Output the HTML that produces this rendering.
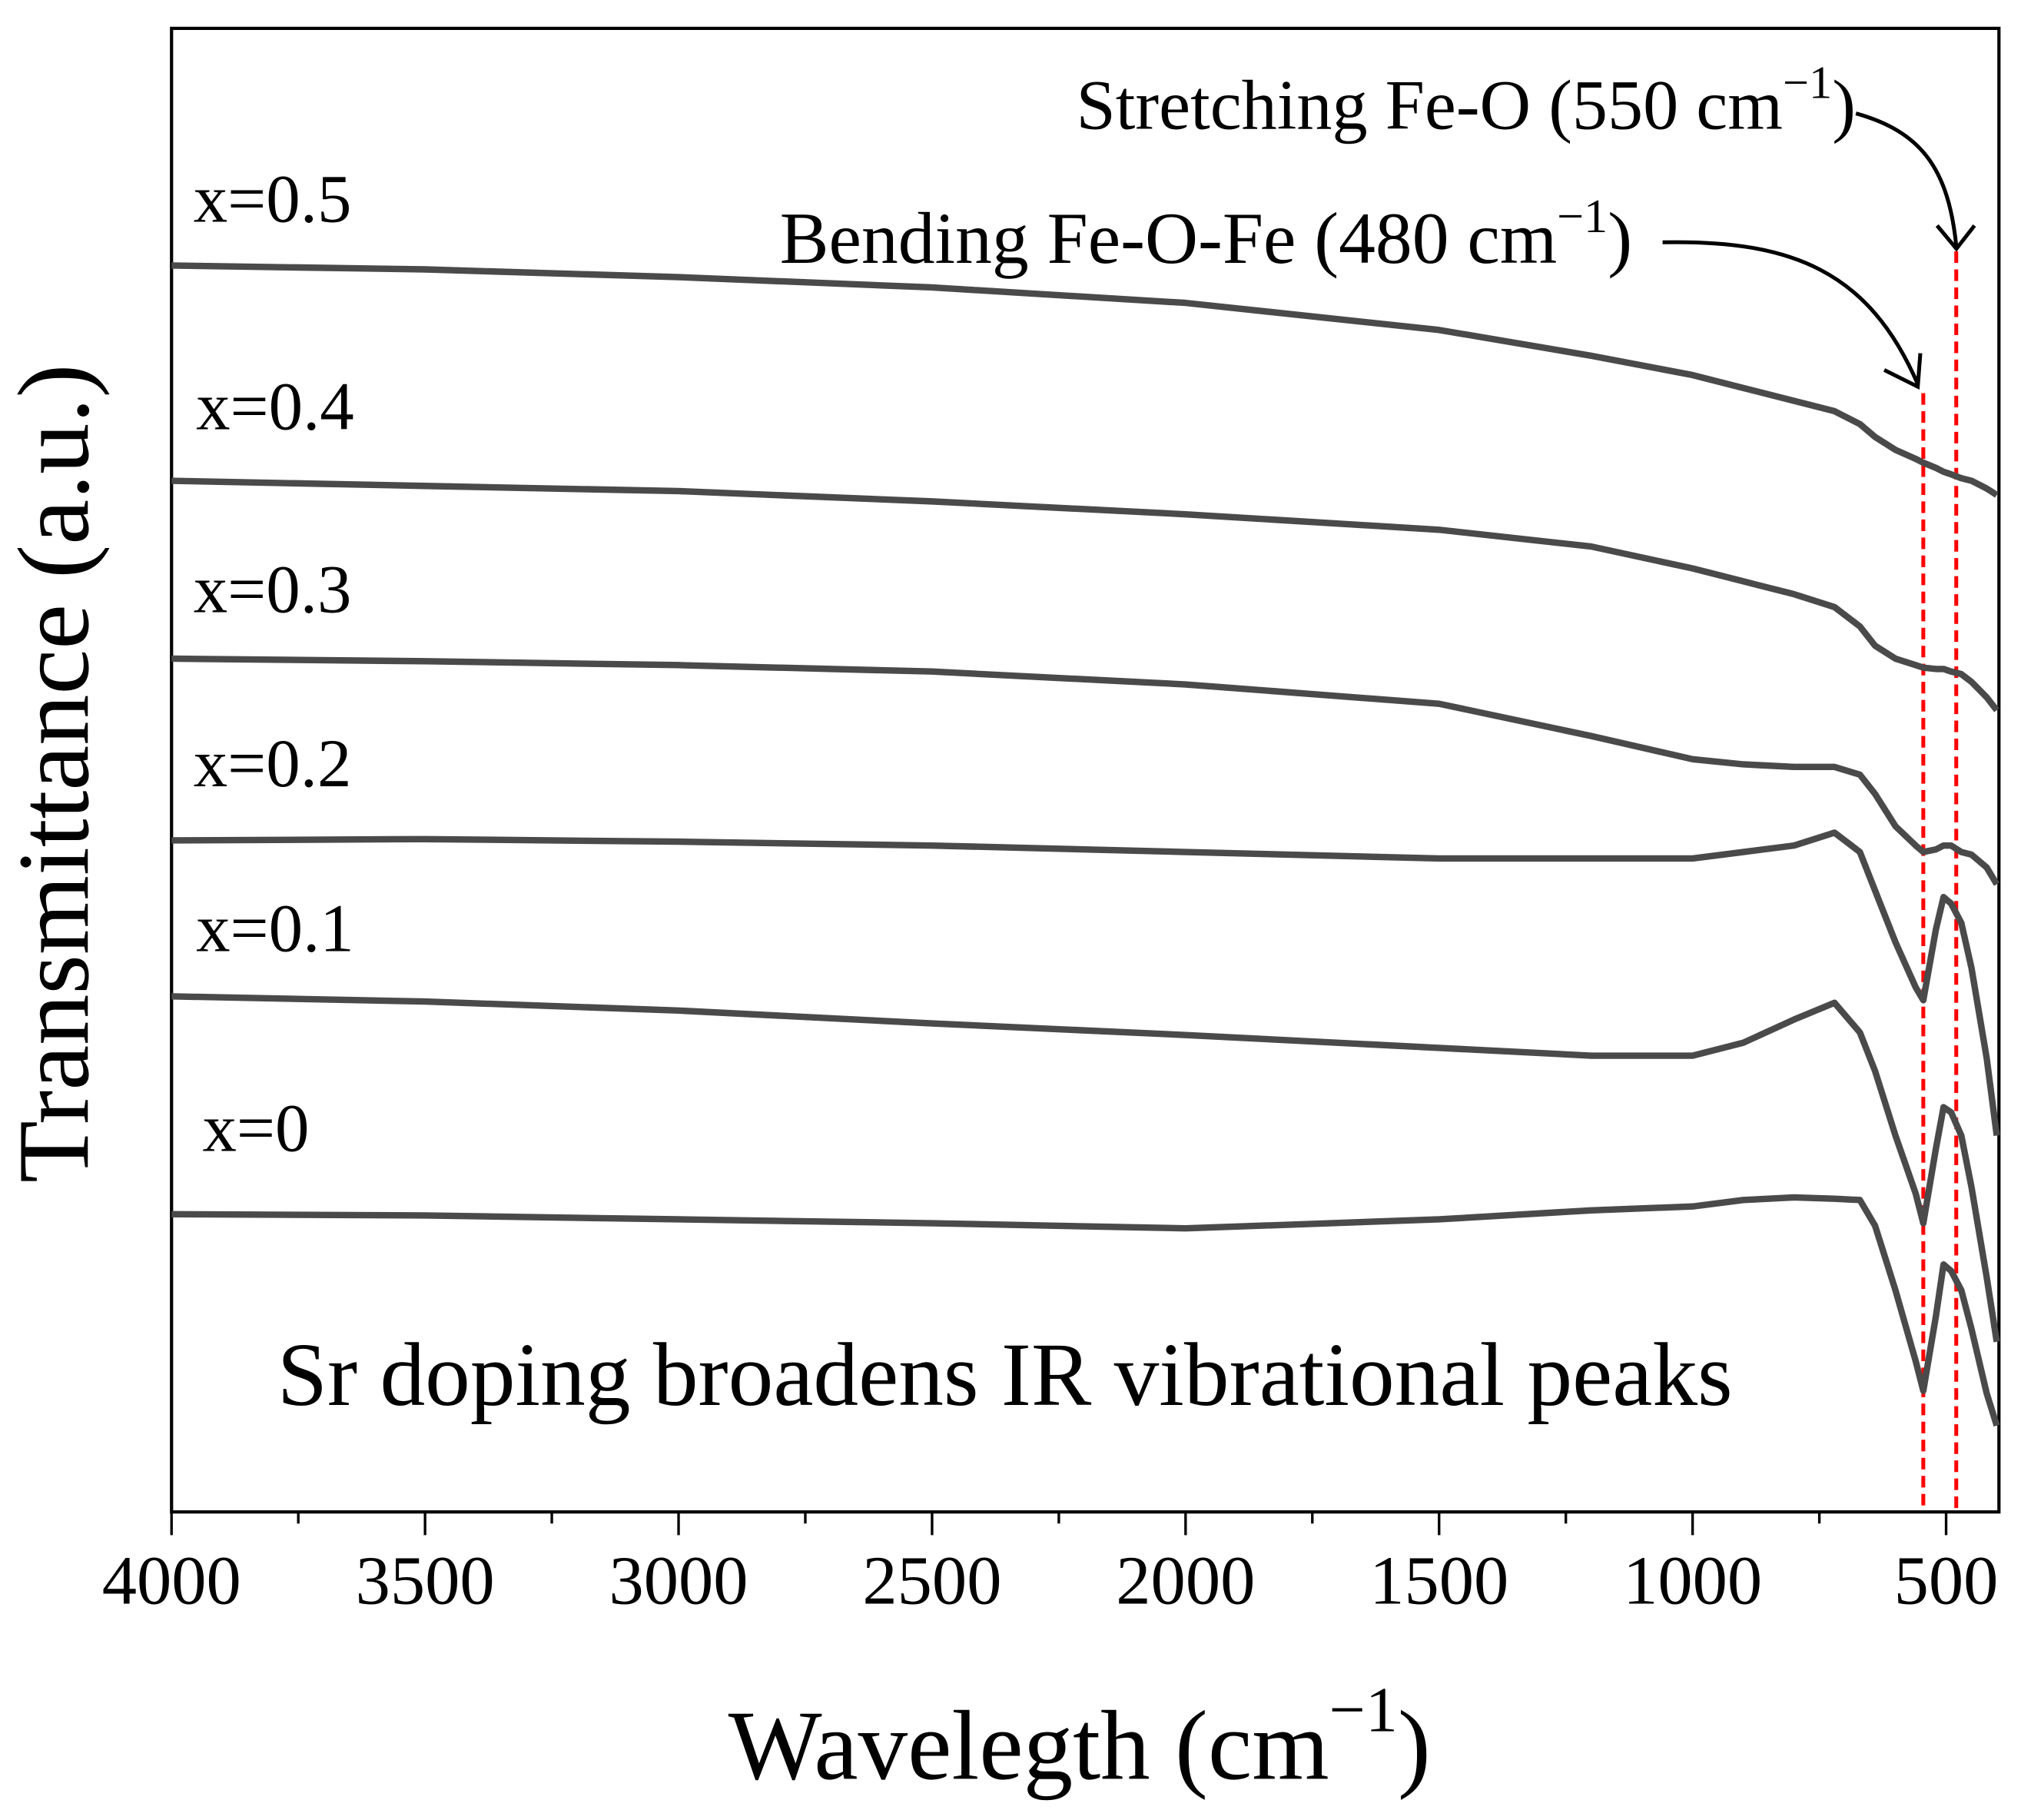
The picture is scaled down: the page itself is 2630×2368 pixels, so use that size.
<!DOCTYPE html>
<html><head><meta charset="utf-8"><style>
html,body{margin:0;padding:0;background:#fff}
svg{display:block}
text{font-family:"Liberation Serif",serif;fill:#000}
</style></head><body>
<svg id="chart" width="2630" height="2368" viewBox="0 0 1568 1412" xmlns="http://www.w3.org/2000/svg">
<rect x="0" y="0" width="1568" height="1412" fill="#fff"/>
<g id="plot"></g>
</svg>
<script>
const wavenumbers=[4000,3500,3000,2500,2000,1500,1200,1000,900,800,720,670,640,600,560,545,520,505,490,470,450,420,400];
const seriesLabels=["x=0","x=0.1","x=0.2","x=0.3","x=0.4","x=0.5"];
const sX0=[2.31,2.30,2.27,2.24,2.20,2.27,2.34,2.37,2.42,2.44,2.43,2.42,2.22,1.72,1.17,0.94,1.52,1.92,1.87,1.72,1.42,0.92,0.67];
const sX01=[4.00,3.96,3.89,3.79,3.70,3.60,3.54,3.54,3.64,3.82,3.95,3.72,3.42,2.92,2.47,2.24,2.82,3.14,3.10,2.92,2.52,1.82,1.32];
const sX02=[5.21,5.22,5.20,5.17,5.12,5.07,5.07,5.07,5.12,5.17,5.27,5.12,4.82,4.42,4.07,3.97,4.52,4.77,4.72,4.57,4.22,3.52,2.92];
const sX03=[6.62,6.60,6.57,6.52,6.42,6.27,6.02,5.84,5.80,5.78,5.78,5.72,5.57,5.32,5.17,5.12,5.14,5.17,5.17,5.12,5.10,5.00,4.87];
const sX04=[8.00,7.96,7.92,7.84,7.74,7.62,7.49,7.32,7.22,7.12,7.02,6.87,6.72,6.62,6.57,6.55,6.54,6.54,6.52,6.50,6.44,6.32,6.22];
const sX05=[9.67,9.64,9.58,9.50,9.38,9.17,8.97,8.82,8.72,8.62,8.54,8.44,8.34,8.24,8.17,8.14,8.10,8.07,8.05,8.02,8.00,7.94,7.89];
const allSeries=[sX0,sX01,sX02,sX03,sX04,sX05];
const xTicks=[4000,3500,3000,2500,2000,1500,1000,500];
const minorTicks=[3750,3250,2750,2250,1750,1250,750];
const peakLines=[545,480];

const L=133,R=1551,T=22,B=1173;
const X=w=>L+(4000-w)*(1510-133)/3500;
const Y=v=>B-v*100;
const NS="http://www.w3.org/2000/svg";
const g=document.getElementById('plot');
function mk(tag,attrs,parent){const e=document.createElementNS(NS,tag);for(const k in attrs)e.setAttribute(k,attrs[k]);(parent||g).appendChild(e);return e;}

const fr=mk('rect',{x:L,y:T,width:R-L,height:B-T,fill:'none',stroke:'#000','stroke-width':2.5});



peakLines.forEach((w,i)=>{
  const ln=mk('line',{x1:X(w),x2:X(w),y1:i==0?305:195,y2:B,stroke:'#f00','stroke-width':3,'stroke-dasharray':'9,5'});
  
  
});

allSeries.forEach((s,i)=>{
  const d=s.map((v,j)=>(j?'L':'M')+X(wavenumbers[j]).toFixed(1)+','+Y(v).toFixed(1)).join(' ');
  const p=mk('path',{d:d,fill:'none',stroke:'#4a4a4a','stroke-width':5,'stroke-linejoin':'round'});
  
  
});

const labelPos=[[157,893],[152,738],[150,610],[150,475],[152,333],[150,172]];
seriesLabels.forEach((t,i)=>{
  const e=mk('text',{x:labelPos[i][0],y:labelPos[i][1],'font-size':53});
  e.textContent=t;
  
  
});

xTicks.forEach(w=>{
  const t=mk('line',{x1:X(w),x2:X(w),y1:B,y2:B+18,stroke:'#000','stroke-width':2});
  
  
  const lb=mk('text',{x:X(w),y:1244,'font-size':54,'text-anchor':'middle'});
  lb.textContent=w;
  
  
});
minorTicks.forEach(w=>{
  const t=mk('line',{x1:X(w),x2:X(w),y1:B,y2:B+9,stroke:'#000','stroke-width':2});
  
  
});

const xt=mk('text',{x:565,y:1380,'font-size':77});
xt.innerHTML='Wavelegth (cm<tspan font-size="50" dy="-37">−1</tspan><tspan dy="37">)</tspan>';


const yt=mk('text',{x:-600,y:68,'font-size':79,'text-anchor':'middle',transform:'rotate(-90)'});
yt.textContent='Transmittance (a.u.)';



const a1=mk('text',{x:835,y:100,'font-size':55});
a1.innerHTML='Stretching Fe-O (550 cm<tspan font-size="36" dy="-24">−1</tspan><tspan dy="24">)</tspan>';


const a2=mk('text',{x:605,y:204,'font-size':57});
a2.innerHTML='Bending Fe-O-Fe (480 cm<tspan font-size="37" dy="-24">−1</tspan><tspan dy="24">)</tspan>';


const a3=mk('text',{x:215,y:1090,'font-size':70});
a3.textContent='Sr doping broadens IR vibrational peaks';



const ar1=mk('path',{d:'M1290,188 C1390,186 1450,210 1488,298 M1462,287 L1488,300 L1490,274',fill:'none',stroke:'#000','stroke-width':3});


const ar2=mk('path',{d:'M1440,88 C1490,102 1512,130 1518,192 M1503,175 L1518,193 L1532,175',fill:'none',stroke:'#000','stroke-width':3});


</script>
</body></html>
